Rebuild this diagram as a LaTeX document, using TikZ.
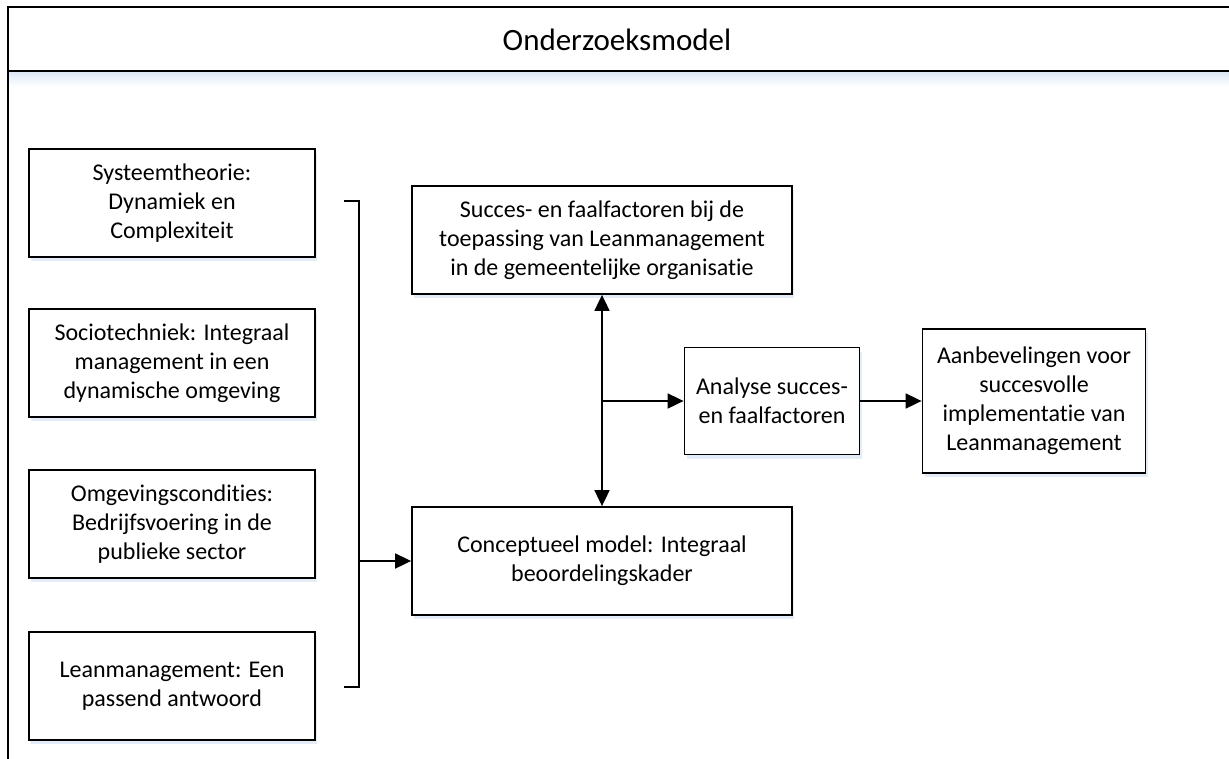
\documentclass[tikz,border=0pt]{standalone}
\usepackage{fontspec}
\setmainfont{Carlito}[Ligatures=NoCommon]
\usetikzlibrary{arrows.meta,positioning,shadows}
\definecolor{shadowBlue}{HTML}{D9E6F4}

\begin{document}
\begin{tikzpicture}[x=1pt,y=-1pt,
  box/.style={draw,line width=1.8pt,fill=white,align=center,inner sep=0pt,
    font=\fontsize{24}{29}\selectfont,
    drop shadow={shadow xshift=2pt,shadow yshift=-4pt,fill=shadowBlue,opacity=0.7}},
  link/.style={line width=1.8pt,-{Triangle[length=16pt,width=15pt]}}]
\clip (0,0) rectangle (1229,758);
\fill[white] (0,0) rectangle (1229,758);
\shade[top color=shadowBlue,bottom color=white] (8,71) rectangle (1240,86);
\draw[line width=1.8pt] (8,800) -- (8,7) -- (1240,7) (8,71) -- (1240,71);
\node[font=\fontsize{31}{36}\selectfont] (title) at (617,40) {Onderzoeksmodel};
\node[box,minimum width=286,minimum height=108] (sys) at (172,203) {Systeemtheorie:\\Dynamiek en\\Complexiteit};
\node[box,minimum width=286,minimum height=108] (socio) at (172,363) {Sociotechniek: Integraal\\management in een\\dynamische omgeving};
\node[box,minimum width=286,minimum height=108] (omg) at (172,524) {Omgevingscondities:\\Bedrijfsvoering in de\\publieke sector};
\node[box,minimum width=286,minimum height=108] (lean) at (172,686) {Leanmanagement: Een\\passend antwoord};
\node[box,minimum width=380,minimum height=108] (succes) at (602,240) {Succes- en faalfactoren bij de\\toepassing van Leanmanagement\\in de gemeentelijke organisatie};
\node[box,minimum width=380,minimum height=108] (concept) at (602,561) {Conceptueel model: Integraal\\beoordelingskader};
\node[box,minimum width=175,minimum height=107] (analyse) at (772,401) {Analyse succes-\\en faalfactoren};
\node[box,minimum width=223,minimum height=144] (advies) at (1034,401) {Aanbevelingen voor\\succesvolle\\implementatie van\\Leanmanagement};
\draw[line width=1.8pt] (344,201) -- (359,201) -- (359,687) -- (344,687);
\coordinate (brace) at (359,561);
\draw[link] (brace) -- (brace -| concept.west);
\draw[link,{Triangle[length=16pt,width=15pt]}-{Triangle[length=16pt,width=15pt]}] (succes) -- (concept);
\coordinate (split) at (succes.south |- analyse.west);
\draw[link] (split) -- (analyse);
\draw[link] (analyse) -- (advies);
\end{tikzpicture}
\end{document}
